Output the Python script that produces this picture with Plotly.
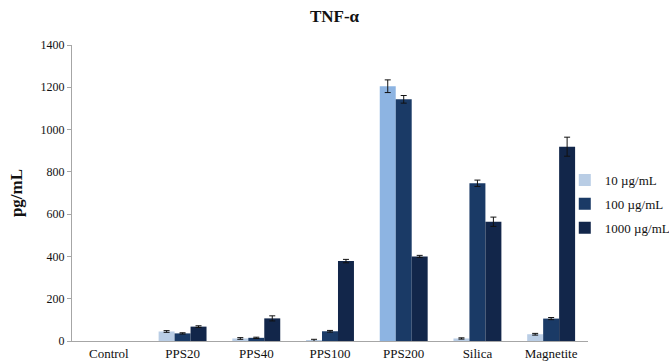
import plotly.graph_objects as go

categories = ["Control", "PPS20", "PPS40", "PPS100", "PPS200", "Silica", "Magnetite"]
series_names = ["10 \u00b5g/mL", "100 \u00b5g/mL", "1000 \u00b5g/mL"]

# Control: below detection, nothing drawn
vals_10 = [None, 45, 12, 3, 1205, 12, 32]
vals_100 = [None, 36, 15, 46, 1143, 746, 106]
vals_1000 = [None, 68, 107, 378, 400, 564, 919]

err_10 = [0, 4, 4, 5, 30, 3, 4]
err_100 = [0, 3, 3, 4, 18, 15, 5]
err_1000 = [0, 4, 12, 8, 5, 22, 45]

y_ticks = [0, 200, 400, 600, 800, 1000, 1200, 1400]

light = "#b9cde5"
colors_10 = [light, light, light, light, "#8db4e2", light, light]
color_100 = "#1a3a66"
color_1000 = "#12264a"

serif = "Liberation Serif, Times New Roman, serif"

fig = go.Figure()
for i, (name, vals, errs, col) in enumerate([
    (series_names[0], vals_10, err_10, colors_10),
    (series_names[1], vals_100, err_100, color_100),
    (series_names[2], vals_1000, err_1000, color_1000),
]):
    fig.add_trace(go.Bar(
        x=categories, y=vals, name=name,
        marker=dict(color=col, line=dict(width=0)),
        error_y=dict(type="data", array=errs, color="#111111", thickness=1, width=3),
        legendgroup=str(i),
    ))

fig.update_layout(
    width=669, height=362,
    margin=dict(l=72, r=81, t=45, b=21, autoexpand=False),
    paper_bgcolor="white", plot_bgcolor="white",
    barmode="group", bargap=0.35, bargroupgap=0,
    title=dict(text="<b>TNF-\u03b1</b>", x=0.5, xanchor="center", y=0.955, yanchor="middle",
               font=dict(family=serif, size=17, color="#111111")),
    font=dict(family=serif, size=12, color="#111111"),
    showlegend=True,
    legend=dict(x=0.955, xanchor="left", y=0.463, yanchor="middle",
                font=dict(family=serif, size=13, color="#111111"),
                traceorder="grouped", tracegroupgap=4, itemwidth=30,
                bgcolor="rgba(0,0,0,0)"),
    xaxis=dict(showline=True, linecolor="#a6a6a6", linewidth=1, ticks="",
               automargin=False,
               tickfont=dict(family=serif, size=13, color="#111111"), fixedrange=True),
    yaxis=dict(range=[0, 1400], tickvals=y_ticks, showgrid=False, zeroline=False,
               showline=True, linecolor="#a6a6a6", linewidth=1, automargin=False,
               ticks="outside", ticklen=4, tickcolor="#a6a6a6",
               tickfont=dict(family=serif, size=12, color="#111111"),
               title=dict(text="<b>pg/mL</b>", standoff=13,
                          font=dict(family=serif, size=17, color="#111111"))),
)

fig.write_html("out.html")
